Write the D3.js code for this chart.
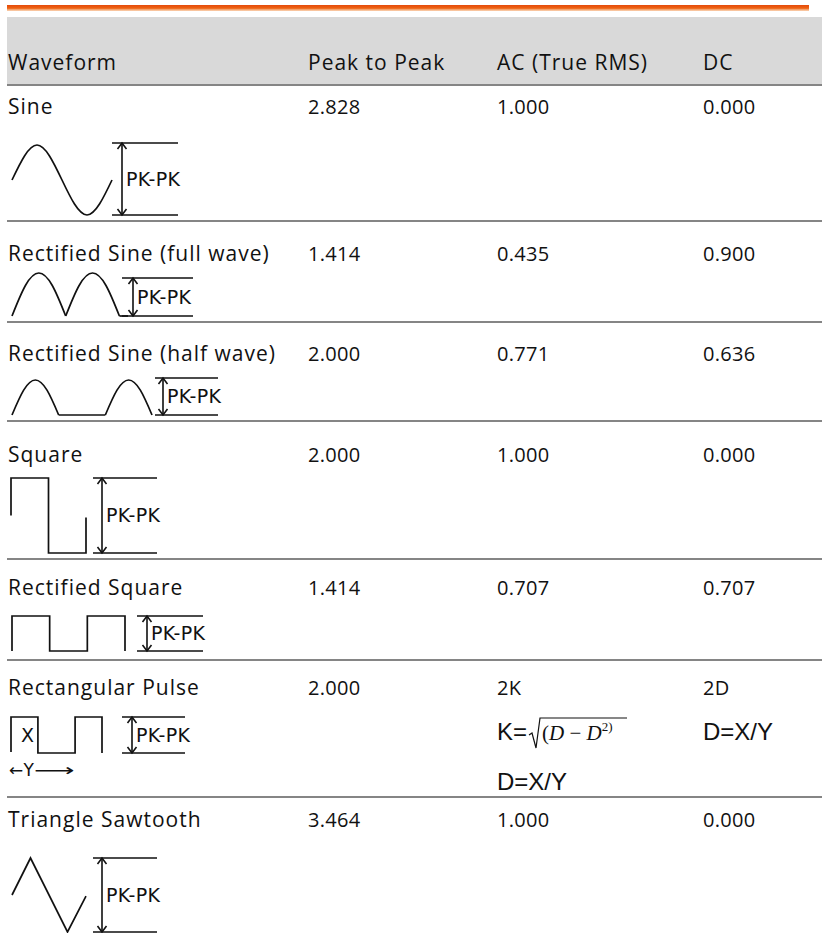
<!DOCTYPE html>
<html>
<head>
<meta charset="utf-8">
<script src="https://cdn.jsdelivr.net/npm/d3@7"></script>
<style>
  html, body { margin: 0; padding: 0; background: #fff; }
  svg { display: block; }
  .cell { font-family: "Open Sans", sans-serif; font-size: 21px; letter-spacing: 1px; fill: #111; }
  .num { font-family: "Open Sans", sans-serif; font-size: 20px; letter-spacing: 0.3px; fill: #111; }
  .pk { font-family: "DejaVu Sans", sans-serif; font-size: 19px; letter-spacing: 0.3px; fill: #111; }
  .arial { font-family: "Liberation Sans", Arial, sans-serif; font-size: 24px; fill: #111; }
  .serif { font-family: "Liberation Serif", "Times New Roman", serif; fill: #111; }
  .wave { fill: none; stroke: #111; stroke-width: 1.7; stroke-linejoin: miter; }
  .mark { fill: none; stroke: #111; stroke-width: 1.6; }
  .rule { stroke: #858585; stroke-width: 2; }
</style>
</head>
<body>
<svg id="table"></svg>
<script>
const headers = ["Waveform", "Peak to Peak", "AC (True RMS)", "DC"];
const waveNames = ["Sine", "Rectified Sine (full wave)", "Rectified Sine (half wave)",
  "Square", "Rectified Square", "Rectangular Pulse", "Triangle Sawtooth"];
const peakToPeak = ["2.828", "1.414", "2.000", "2.000", "1.414", "2.000", "3.464"];
const acRms = ["1.000", "0.435", "0.771", "1.000", "0.707", "2K", "1.000"];
const dcValues = ["0.000", "0.900", "0.636", "0.000", "0.707", "2D", "0.000"];
const pulseNoteAc = "D=X/Y";
const pulseNoteDc = "D=X/Y";

// waveform outlines: x in periods, y in amplitude
const hump = [[0, 0], [0.125, 0.71], [0.25, 1], [0.375, 0.71], [0.5, 0]];
const shift = (pts, dx) => pts.map(p => [p[0] + dx, p[1]]);
const shapes = [
  { curved: true, pieces: [[[0, 0], [0.25, 1], [0.5, 0], [0.75, -1], [1, 0]]] },
  { curved: true, pieces: [hump, shift(hump, 0.5)], tail: [[1, 0], [1.08, 0]] },
  { curved: true, pieces: [hump, shift(hump, 1)], tail: [[0.5, 0], [1, 0]] },
  { curved: false, pieces: [[[0, 0], [0, 1], [0.5, 1], [0.5, -1], [1, -1], [1, -0.05]]] },
  { curved: false, pieces: [[[0, 0], [0, 1], [0.5, 1], [0.5, 0], [1, 0], [1, 1], [1.5, 1], [1.5, 0]]] },
  { curved: false, pieces: [[[0, 0.03], [0, 1], [0.42, 1], [0.42, 0], [1, 0], [1, 1], [1.42, 1], [1.42, 0]]] },
  { curved: false, pieces: [[[0, 0], [0.25, 1], [0.75, -1], [1, -0.03]]] }
];

// layout (pixels)
const W = 822, H = 933;
const colX = d3.scaleOrdinal().domain(headers).range([8, 308, 497, 703]);
const ruleY = [85, 221, 322, 421, 559, 660, 797];
const baseY = [114, 261, 361, 462, 595, 695, 827];
const waveBox = [
  [12, 112, 215, 145], [12, 128, 316, 273], [12, 152, 415, 380], [11, 86, 553, 478],
  [12, 125, 651, 616], [11, 102, 753, 717], [12, 86, 932, 858]
];
const markBox = [
  [122, 112, 178, 143, 215], [133, 122, 193, 278, 316], [163, 155, 218, 378, 415],
  [102, 93, 157, 478, 553], [147, 137, 203, 616, 651], [132, 122, 185, 717, 753],
  [102, 93, 157, 858, 932]
];

const svg = d3.select("#table").attr("width", W).attr("height", H);

const grad = svg.append("defs").append("linearGradient")
  .attr("id", "bar").attr("x1", 0).attr("y1", 0).attr("x2", 0).attr("y2", 1);
grad.selectAll("stop")
  .data([["0%", "#e4490a"], ["55%", "#ef6414"], ["75%", "#f4a06a"], ["100%", "#fbd7b8"]])
  .join("stop").attr("offset", d => d[0]).attr("stop-color", d => d[1]);

svg.append("rect").attr("x", 7).attr("y", 5).attr("width", 802).attr("height", 6).attr("fill", "url(#bar)");
svg.append("rect").attr("x", 7).attr("y", 17).attr("width", W - 7).attr("height", 67).attr("fill", "#d9d9d9");

svg.selectAll("text.head")
  .data(headers)
  .join("text")
  .attr("class", "cell head")
  .attr("x", d => colX(d))
  .attr("y", 70)
  .text(d => d);

svg.selectAll("line.rule")
  .data(ruleY)
  .join("line")
  .attr("class", "rule")
  .attr("x1", 7).attr("x2", W)
  .attr("y1", d => d).attr("y2", d => d);

const rows = waveNames.map((name, i) => ({
  name, pp: peakToPeak[i], ac: acRms[i], dc: dcValues[i],
  shape: shapes[i], box: waveBox[i], mark: markBox[i], base: baseY[i]
}));

const row = svg.selectAll("g.row").data(rows).join("g").attr("class", "row");

row.each(function (d) {
  const g = d3.select(this);
  [d.name, d.pp, d.ac, d.dc].forEach((t, j) => {
    g.append("text").attr("class", j ? "num" : "cell").attr("x", colX(headers[j])).attr("y", d.base).text(t);
  });

  // waveform icon
  const pts = d.shape.pieces.flat().concat(d.shape.tail || []);
  const x = d3.scaleLinear().domain(d3.extent(pts, p => p[0])).range([d.box[0], d.box[1]]);
  const y = d3.scaleLinear().domain(d3.extent(pts, p => p[1])).range([d.box[2], d.box[3]]);
  const curve = d3.line().x(p => x(p[0])).y(p => y(p[1]))
    .curve(d.shape.curved ? d3.curveNatural : d3.curveLinear);
  const straight = d3.line().x(p => x(p[0])).y(p => y(p[1]));
  d.shape.pieces.forEach(p => g.append("path").attr("class", "wave").attr("d", curve(p)));
  if (d.shape.tail) g.append("path").attr("class", "wave").attr("d", straight(d.shape.tail));

  // PK-PK marker
  const [mx, ml, mr, mt, mb] = d.mark;
  const m = g.append("g").attr("class", "mark");
  m.append("path").attr("d", `M${ml},${mt}H${mr}M${ml},${mb}H${mr}M${mx},${mt}V${mb}`);
  m.append("path").attr("d", `M${mx - 4.5},${mt + 6}L${mx},${mt}L${mx + 4.5},${mt + 6}M${mx - 4.5},${mb - 6}L${mx},${mb}L${mx + 4.5},${mb - 6}`);
  g.append("text").attr("class", "pk").attr("x", mx + 4).attr("y", (mt + mb) / 2).attr("dy", "0.36em").text("PK-PK");
});

// extras for rectangular pulse row
const pr = 5;
const pulseBox = waveBox[pr];
svg.append("text").attr("class", "pk").attr("x", pulseBox[0] + 10).attr("y", (pulseBox[2] + pulseBox[3]) / 2)
  .attr("dy", "0.36em").text("X");
svg.append("text").attr("class", "pk").attr("x", 9).attr("y", 776).style("font-size", "17px").text("←Y");
svg.append("text").attr("class", "pk").attr("x", 34).attr("y", 776).style("font-size", "17px")
  .attr("textLength", 41).attr("lengthAdjust", "spacingAndGlyphs").text("⟶");

const acX = colX(headers[2]), dcX = colX(headers[3]);
svg.append("text").attr("class", "arial").attr("x", acX).attr("y", 740).text("K=");
svg.append("path").attr("class", "mark").style("stroke-width", 1.2)
  .attr("d", `M${acX + 32},${735}L${acX + 35},${733}L${acX + 39},${748}L${acX + 43},${718}H${acX + 130}`);
const f = svg.append("text").attr("class", "serif").attr("x", acX + 45).attr("y", 740).style("font-size", "21px");
f.append("tspan").text("(");
f.append("tspan").style("font-style", "italic").text("D");
f.append("tspan").text(" \u2212 ");
f.append("tspan").style("font-style", "italic").text("D");
f.append("tspan").attr("dy", -9).style("font-size", "13px").text("2)");
svg.append("text").attr("class", "arial").attr("x", acX).attr("y", 790).text(pulseNoteAc);
svg.append("text").attr("class", "arial").attr("x", dcX).attr("y", 740).text(pulseNoteDc);
</script>
</body>
</html>
